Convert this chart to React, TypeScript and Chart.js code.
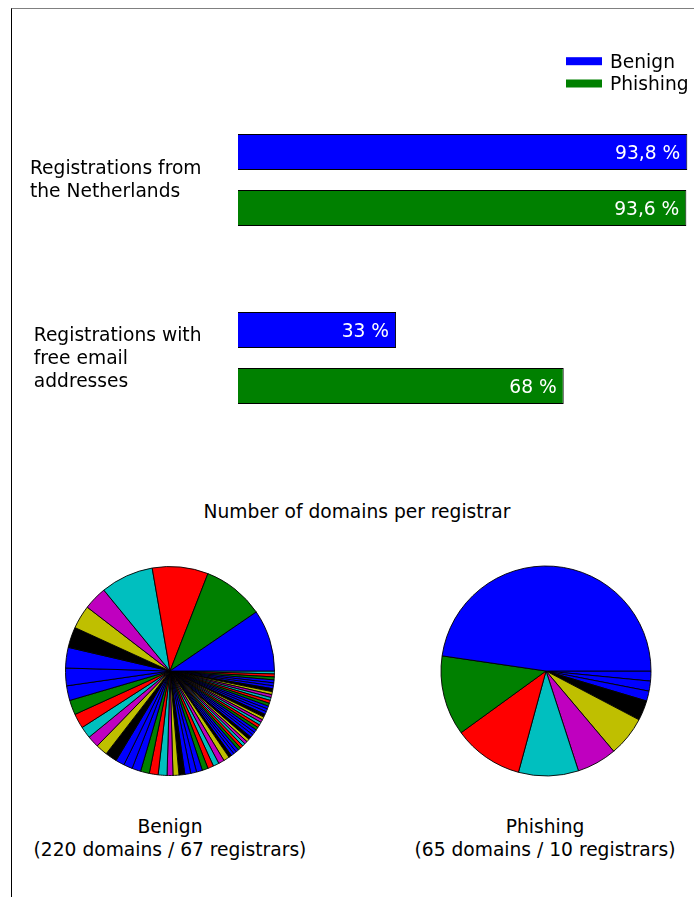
import { useEffect, useRef } from 'react';
import { Chart, registerables } from 'chart.js';

Chart.register(...registerables);

const FONT_FAMILY = '"DejaVu Sans", Verdana, sans-serif';
const FONT_SIZE = 18.67;

// ---- bar chart data ----
const barCategories: string[][] = [
  ['Registrations from', 'the Netherlands'],
  ['Registrations with', 'free email', 'addresses'],
];
const seriesNames = ['Benign', 'Phishing'];
const benignPercent = [93.8, 33];
const phishingPercent = [93.6, 68];

// ---- pie data (domains per registrar, sorted) ----
const benignDomainsPerRegistrar = [
  21, 21, 19, 18, 8, 8, 7, 7, 6, 5, 5, 5, 4, 4, 4, 4,
  3, 3, 3, 3, 3, 3,
  2, 2, 2, 2, 2, 2, 2, 2, 2, 2, 2,
  1, 1, 1, 1, 1, 1, 1, 1, 1, 1, 1, 1, 1, 1, 1, 1, 1,
  1, 1, 1, 1, 1, 1, 1, 1, 1, 1, 1, 1, 1, 1, 1, 1, 1,
];
const phishingDomainsPerRegistrar = [31, 8, 7, 6, 4, 4, 2, 1, 1, 1];

const pieTitle = 'Number of domains per registrar';
const pieCaptions = [
  ['Benign', '(220 domains / 67 registrars)'],
  ['Phishing', '(65 domains / 10 registrars)'],
];

const seriesColors = ['#0000ff', '#008000'];
const piePalette = ['#0000ff', '#008000', '#ff0000', '#00bfbf', '#bf00bf', '#bfbf00', '#000000', '#0000ff', '#0000ff'];

const fmtPercent = (v: number) => String(v).replace('.', ',') + ' %';

const barDecorPlugin = {
  id: 'barDecor',
  afterDraw(chart: any) {
    const ctx = chart.ctx as CanvasRenderingContext2D;
    const yScale = chart.scales.y;
    const area = chart.chartArea;
    ctx.save();
    ctx.font = `${FONT_SIZE}px ${FONT_FAMILY}`;
    const lineGap = 23.3;
    const capHalf = 6.8;
    // category labels (block right-aligned, lines left-aligned)
    ctx.fillStyle = '#000';
    ctx.textAlign = 'left';
    ctx.textBaseline = 'alphabetic';
    barCategories.forEach((lines, i) => {
      const cy = yScale.getPixelForValue(i) - 1;
      const maxW = Math.max(...lines.map((l) => ctx.measureText(l).width));
      const x0 = area.left - 36.5 - maxW;
      lines.forEach((line, j) => {
        const capCenter = cy + (j - (lines.length - 1) / 2) * lineGap;
        ctx.fillText(line, x0, capCenter + capHalf);
      });
    });
    // value labels inside bars
    ctx.fillStyle = '#ffffff';
    ctx.textAlign = 'right';
    chart.data.datasets.forEach((ds: any, di: number) => {
      const meta = chart.getDatasetMeta(di);
      meta.data.forEach((bar: any, i: number) => {
        ctx.fillText(fmtPercent(ds.data[i]), bar.x - 7, bar.y + capHalf);
      });
    });
    // legend
    ctx.textAlign = 'left';
    chart.data.datasets.forEach((ds: any, di: number) => {
      const cy = 61.2 + di * 22.3;
      ctx.fillStyle = ds.backgroundColor;
      ctx.fillRect(566, cy - 4, 36, 8);
      ctx.fillStyle = '#000';
      ctx.fillText(ds.label, 610, cy + capHalf);
    });
    ctx.restore();
  },
};

function BarChart() {
  const ref = useRef<HTMLCanvasElement>(null);
  useEffect(() => {
    const chart = new Chart(ref.current!, {
      type: 'bar',
      data: {
        labels: barCategories.map((c) => c.join(' ')),
        datasets: [
          { label: seriesNames[0], data: benignPercent, backgroundColor: seriesColors[0] },
          { label: seriesNames[1], data: phishingPercent, backgroundColor: seriesColors[1] },
        ],
      },
      options: {
        indexAxis: 'y',
        responsive: false,
        animation: false,
        events: [],
        layout: { padding: { left: 238, right: 23, top: 91, bottom: 33 } },
        datasets: {
          bar: {
            barPercentage: 0.643,
            categoryPercentage: 0.629,
            borderWidth: 1,
            borderColor: '#000',
          } as any,
        },
        scales: {
          x: { display: false, min: 0, max: 100 },
          y: { display: false, offset: true },
        },
        plugins: { legend: { display: false }, tooltip: { enabled: false } },
      },
      plugins: [barDecorPlugin],
    });
    return () => chart.destroy();
  }, []);
  return (
    <canvas ref={ref} width={740} height={480} style={{ position: 'absolute', left: 0, top: 0 }} />
  );
}

function PieChart({ values, left, top, radius }: { values: number[]; left: number; top: number; radius: number }) {
  const ref = useRef<HTMLCanvasElement>(null);
  useEffect(() => {
    const colors = values.map((_, i) => piePalette[i % piePalette.length]);
    // matplotlib draws counter-clockwise from 3 o'clock; Chart.js draws clockwise,
    // so reverse the order and start at 3 o'clock.
    const data = values.slice().reverse();
    const bg = colors.slice().reverse();
    const chart = new Chart(ref.current!, {
      type: 'pie',
      data: {
        labels: data.map((_, i) => `Registrar ${data.length - i}`),
        datasets: [{ data, backgroundColor: bg, borderColor: '#000', borderWidth: 0.9 }],
      },
      options: {
        responsive: false,
        animation: false,
        events: [],
        rotation: 90,
        radius,
        layout: { padding: 0 },
        plugins: { legend: { display: false }, tooltip: { enabled: false } },
      } as any,
    });
    return () => chart.destroy();
  }, [values, radius]);
  return <canvas ref={ref} width={230} height={230} style={{ position: 'absolute', left, top }} />;
}

const textStyle: any = {
  position: 'absolute',
  fontFamily: FONT_FAMILY,
  fontSize: FONT_SIZE + 'px',
  lineHeight: '23.3px',
  color: '#000',
  textAlign: 'center',
  whiteSpace: 'nowrap',
};

export default function App() {
  return (
    <div
      style={{
        position: 'fixed',
        left: 0,
        top: 0,
        width: 694,
        height: 897,
        overflow: 'hidden',
        background: '#fff',
      }}
    >
      <div
        style={{
          position: 'absolute',
          left: 11,
          top: 8,
          width: 900,
          height: 1000,
          borderLeft: '1px solid #000',
          borderTop: '1px solid #808080',
        }}
      />
      <BarChart />
      <div style={{ ...textStyle, left: 0, width: 714, top: 500 }}>{pieTitle}</div>
      <PieChart values={benignDomainsPerRegistrar} left={55} top={555.5} radius={104.5} />
      <PieChart values={phishingDomainsPerRegistrar} left={430.5} top={555.5} radius={105} />
      <div style={{ ...textStyle, left: 0, width: 340, top: 814.7 }}>
        {pieCaptions[0][0]}
        <br />
        {pieCaptions[0][1]}
      </div>
      <div style={{ ...textStyle, left: 345, width: 400, top: 814.7 }}>
        {pieCaptions[1][0]}
        <br />
        {pieCaptions[1][1]}
      </div>
    </div>
  );
}
